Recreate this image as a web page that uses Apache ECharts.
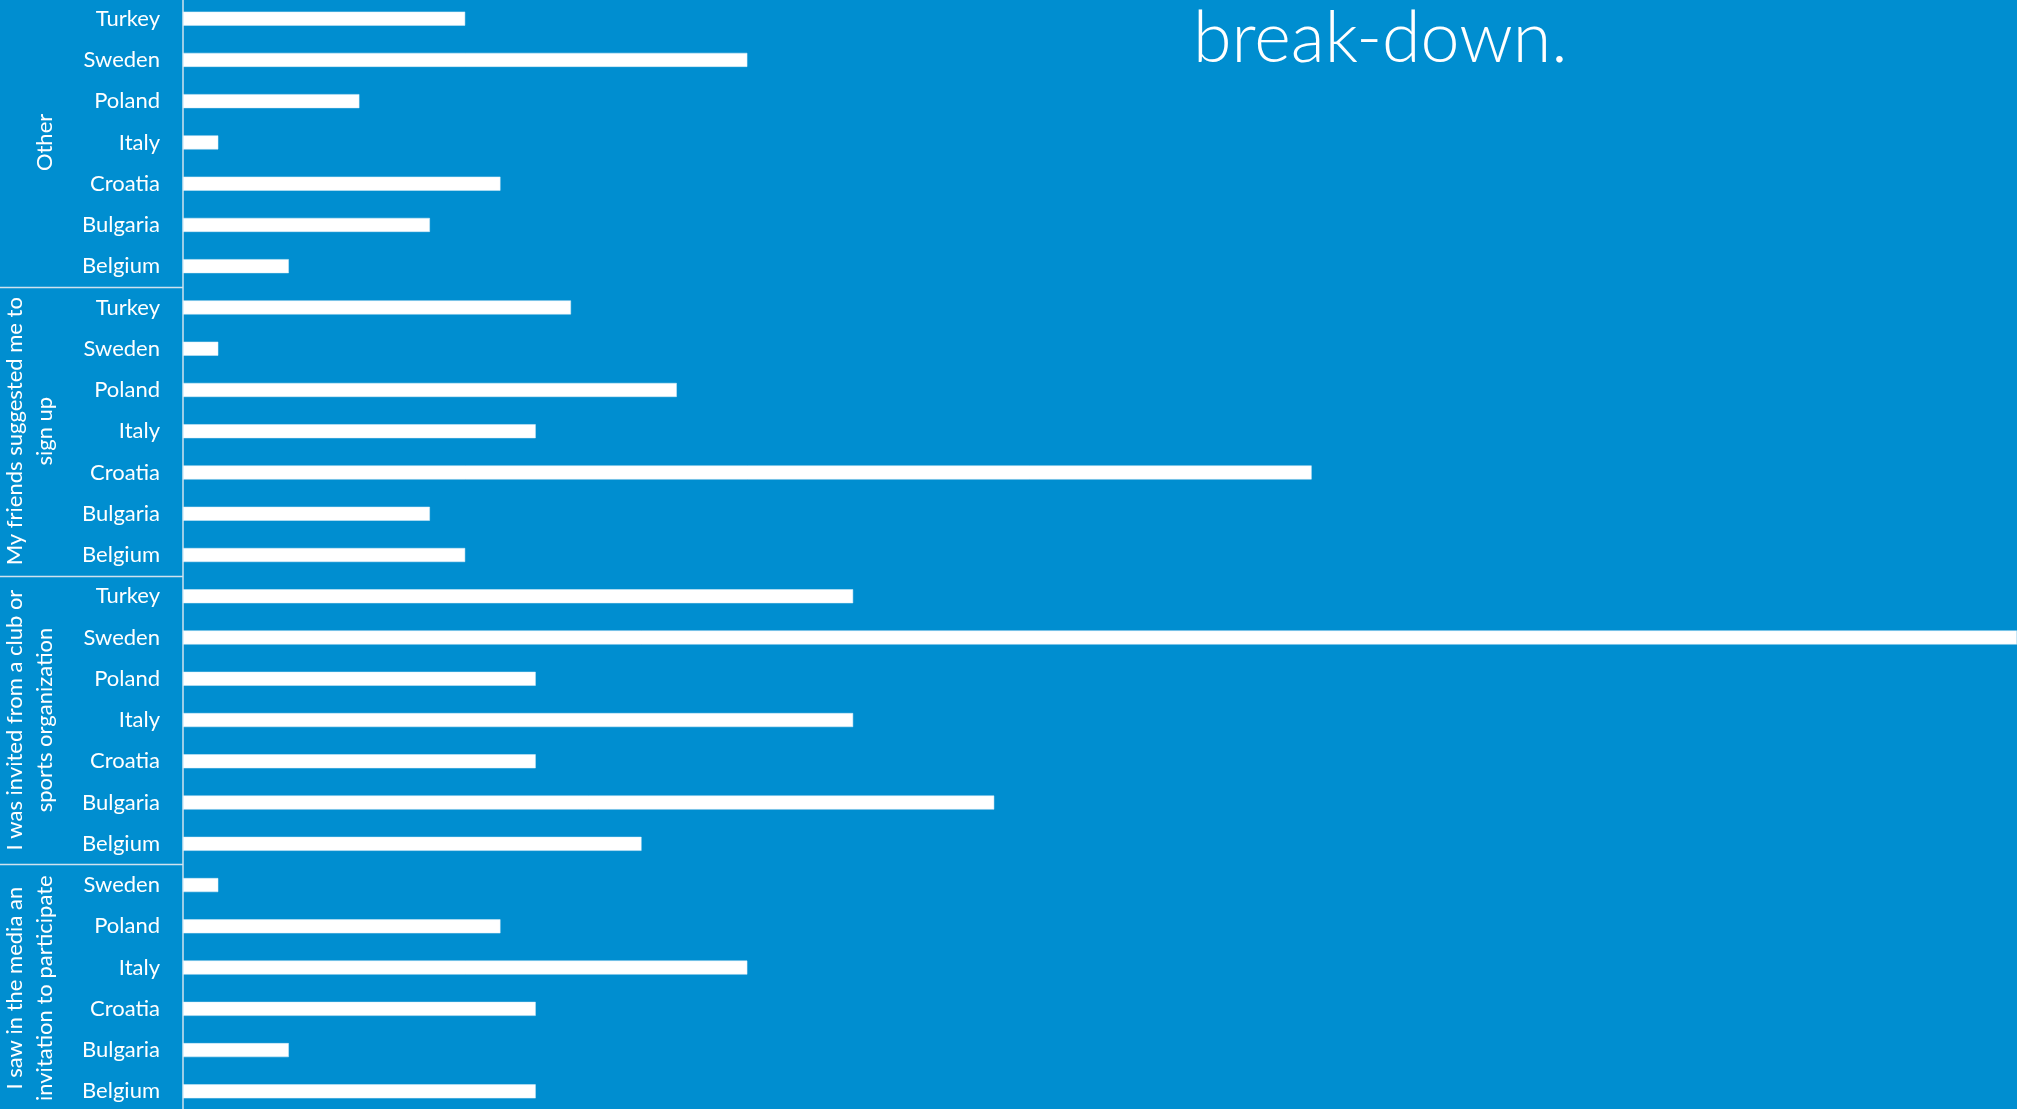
<!DOCTYPE html>
<html><head><meta charset="utf-8">
<script src="https://cdn.jsdelivr.net/npm/echarts@6/dist/echarts.min.js"></script>
<style>html,body{margin:0;padding:0;background:#008ED0;overflow:hidden}#c{width:2017px;height:1109px}</style>
</head><body><div id="c"></div>
<script>
// Groups from top to bottom
const groupNames = [
  "Other",
  "My friends suggested me to\nsign up",
  "I was invited from a club or\nsports organization",
  "I saw in the media an\ninvitation to participate"
];
const otherCountries   = ["Turkey","Sweden","Poland","Italy","Croatia","Bulgaria","Belgium"];
const otherValues      = [8, 16, 5, 1, 9, 7, 3];
const friendsCountries = ["Turkey","Sweden","Poland","Italy","Croatia","Bulgaria","Belgium"];
const friendsValues    = [11, 1, 14, 10, 32, 7, 8];
const clubCountries    = ["Turkey","Sweden","Poland","Italy","Croatia","Bulgaria","Belgium"];
const clubValues       = [19, 52, 10, 19, 10, 23, 13];
const mediaCountries   = ["Sweden","Poland","Italy","Croatia","Bulgaria","Belgium"];
const mediaValues      = [1, 9, 16, 10, 3, 10];
const titleText = "break-down.";

const groupCountries = [otherCountries, friendsCountries, clubCountries, mediaCountries];
const groupValues = [otherValues, friendsValues, clubValues, mediaValues];

const categories = [];
const values = [];
groupCountries.forEach((cs, gi) => {
  cs.forEach((c, i) => { categories.push(gi + "|" + c); values.push(groupValues[gi][i]); });
});

const FONT = "Lato, 'Open Sans', sans-serif";
const chart = echarts.init(document.getElementById('c'), null, {renderer: 'canvas'});
chart.setOption({
  backgroundColor: '#008ED0',
  animation: false,
  grid: {left: 183, right: 0, top: -2, height: 1114, containLabel: false, outerBoundsMode: 'none'},
  xAxis: {type: 'value', min: 0, max: 52, show: false, splitLine: {show: false}},
  yAxis: {
    type: 'category', inverse: true, data: categories,
    axisLine: {show: true, lineStyle: {color: '#cfe2ee', width: 1.5}},
    axisTick: {show: false},
    axisLabel: {
      color: '#ffffff', fontFamily: FONT, fontSize: 22, margin: 23,
      formatter: v => v.split('|')[1]
    }
  },
  series: [{
    type: 'bar', data: values, barWidth: 14,
    itemStyle: {color: '#ffffff', borderColor: '#d6ecf8', borderWidth: 0.5},
    silent: true
  }]
});

// group labels and separators
const g = [];
let idx = 0;
groupCountries.forEach((cs, gi) => {
  const first = categories[idx], last = categories[idx + cs.length - 1];
  const y1 = chart.convertToPixel({yAxisIndex: 0}, first);
  const y2 = chart.convertToPixel({yAxisIndex: 0}, last);
  const cy = (y1 + y2) / 2;
  g.push({
    type: 'text', x: 60, y: cy, rotation: Math.PI / 2,
    style: {text: groupNames[gi], fill: '#ffffff', font: "22px " + FONT,
      align: 'center', verticalAlign: 'bottom', lineHeight: 30}
  });
  if (gi < groupCountries.length - 1) {
    const yn = chart.convertToPixel({yAxisIndex: 0}, categories[idx + cs.length]);
    const yb = Math.round((y2 + yn) / 2) + 0.5;
    g.push({type: 'line', shape: {x1: 0, y1: yb, x2: 183, y2: yb},
      style: {stroke: '#cfe2ee', lineWidth: 1.5}});
  }
  idx += cs.length;
});
g.push({
  type: 'text', x: 1193, y: 74,
  style: {text: titleText, fill: '#ffffff', font: "300 70px " + FONT,
    align: 'left', verticalAlign: 'bottom'}
});
chart.setOption({graphic: g});
</script>
</body></html>
